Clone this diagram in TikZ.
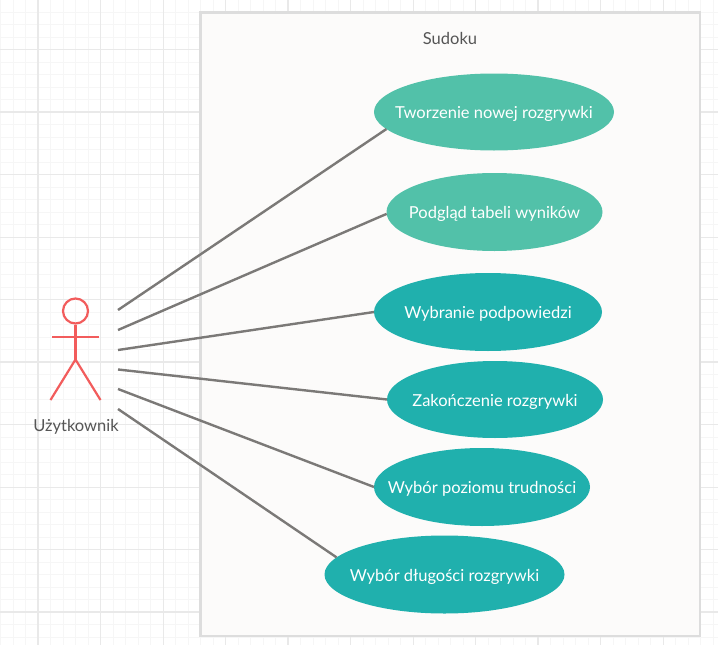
\documentclass[tikz,border=0pt]{standalone}
\usepackage{fontspec}
\setmainfont{Lato}
\usetikzlibrary{shapes.geometric}
\definecolor{gridminor}{HTML}{F6F6F6}
\definecolor{gridmajor}{HTML}{E9E9E9}
\definecolor{boxfill}{HTML}{FCFBFA}
\definecolor{boxline}{HTML}{DDDDDD}
\definecolor{teallight}{HTML}{52C1A9}
\definecolor{tealdark}{HTML}{20B0AD}
\definecolor{linkgray}{HTML}{7B7977}
\definecolor{actorred}{HTML}{F25C5C}
\definecolor{labelgray}{HTML}{555555}
\newcommand{\uctext}[1]{\makebox[0pt]{\smash{\raisebox{-6.8pt}{#1}}}}
\tikzset{
  x=1pt,y=-1pt,
  minorgrid/.style={gridminor,line width=1pt},
  majorgrid/.style={gridmajor,line width=1pt},
  heavygrid/.style={gridmajor,line width=1.6pt},
  usecase/.style={ellipse,inner sep=0pt,outer sep=0pt,text=white,font=\fontsize{16.5}{19}\selectfont},
  uclight/.style={usecase,fill=teallight},
  ucdark/.style={usecase,fill=tealdark},
  link/.style={linkgray,line width=2.4pt},
  actorline/.style={actorred,line width=2.2pt},
  plainlabel/.style={text=labelgray,inner sep=0pt,font=\fontsize{16.5}{19}\selectfont},
}
\begin{document}
\begin{tikzpicture}
\useasboundingbox (0,0) rectangle (718,645);
\fill[white] (0,0) rectangle (718,645);
% grid
\foreach \i in {0,...,57}{
  \pgfmathsetmacro{\xx}{0.5+12.5*\i}
  \draw[minorgrid] (\xx,0) -- (\xx,645);
}
\foreach \i in {0,...,51}{
  \pgfmathsetmacro{\yy}{-0.5+12.5*\i}
  \draw[minorgrid] (0,\yy) -- (718,\yy);
}
\foreach \xx in {100.5,163,225.5,350.5,413,475.5,600.5,663}{
  \draw[majorgrid] (\xx,0) -- (\xx,645);
}
\foreach \xx in {38,288,538}{
  \draw[heavygrid] (\xx,0) -- (\xx,645);
}
\foreach \yy in {49.5,174.5,237,299.5,424.5,487,549.5}{
  \draw[majorgrid] (0,\yy) -- (718,\yy);
}
\foreach \yy in {112,362,612}{
  \draw[heavygrid] (0,\yy) -- (718,\yy);
}
% system box
\node[draw=boxline,fill=boxfill,line width=2.6pt,inner sep=0pt,outer sep=0pt,minimum width=499.5pt,minimum height=623.5pt,anchor=north west] (system) at (200.5,12.5) {};
\node[plainlabel] (title) at (450,38.8) {Sudoku};
% use cases
\node[uclight,minimum width=240pt,minimum height=77pt] (uc1) at (494,112) {\uctext{Tworzenie nowej rozgrywki}};
\node[uclight,minimum width=216pt,minimum height=78pt] (uc2) at (494.5,212) {\uctext{Podgląd tabeli wyników}};
\node[ucdark,minimum width=228pt,minimum height=78pt] (uc3) at (488,312) {\uctext{Wybranie podpowiedzi}};
\node[ucdark,minimum width=216pt,minimum height=77pt] (uc4) at (495,399.5) {\uctext{Zakończenie rozgrywki}};
\node[ucdark,minimum width=216pt,minimum height=78pt] (uc5) at (482,487) {\uctext{Wybór poziomu trudności}};
\node[ucdark,minimum width=240pt,minimum height=78pt] (uc6) at (444.5,574.5) {\uctext{Wybór długości rozgrywki}};
% actor
\node[circle,draw=actorred,line width=2.2pt,minimum size=25pt,inner sep=0pt] (head) at (75.5,311) {};
\coordinate (hip) at (75.5,359.5);
\coordinate (armL) at (52,337);
\coordinate (armR) at (99,337);
\coordinate (footL) at (50.5,400);
\coordinate (footR) at (100.5,400);
\draw[actorline] (head.south) -- (hip);
\draw[actorline] (armL) -- (armR);
\draw[actorline] (footL) -- (hip) -- (footR);
\node[plainlabel] (actorlabel) at (76,426.5) {Użytkownik};
% connector starts
\coordinate (s1) at (118,310);
\coordinate (s2) at (118,330);
\coordinate (s3) at (118,350);
\coordinate (s4) at (118,369.5);
\coordinate (s5) at (118,389);
\coordinate (s6) at (118,409);
\draw[link] (s1) -- (uc1.189);
\draw[link] (s2) -- (uc2.181);
\draw[link] (s3) -- (uc3.180);
\draw[link] (s4) -- (uc4.180);
\draw[link] (s5) -- (uc5.180);
\draw[link] (s6) -- (uc6.171);
\end{tikzpicture}
\end{document}
